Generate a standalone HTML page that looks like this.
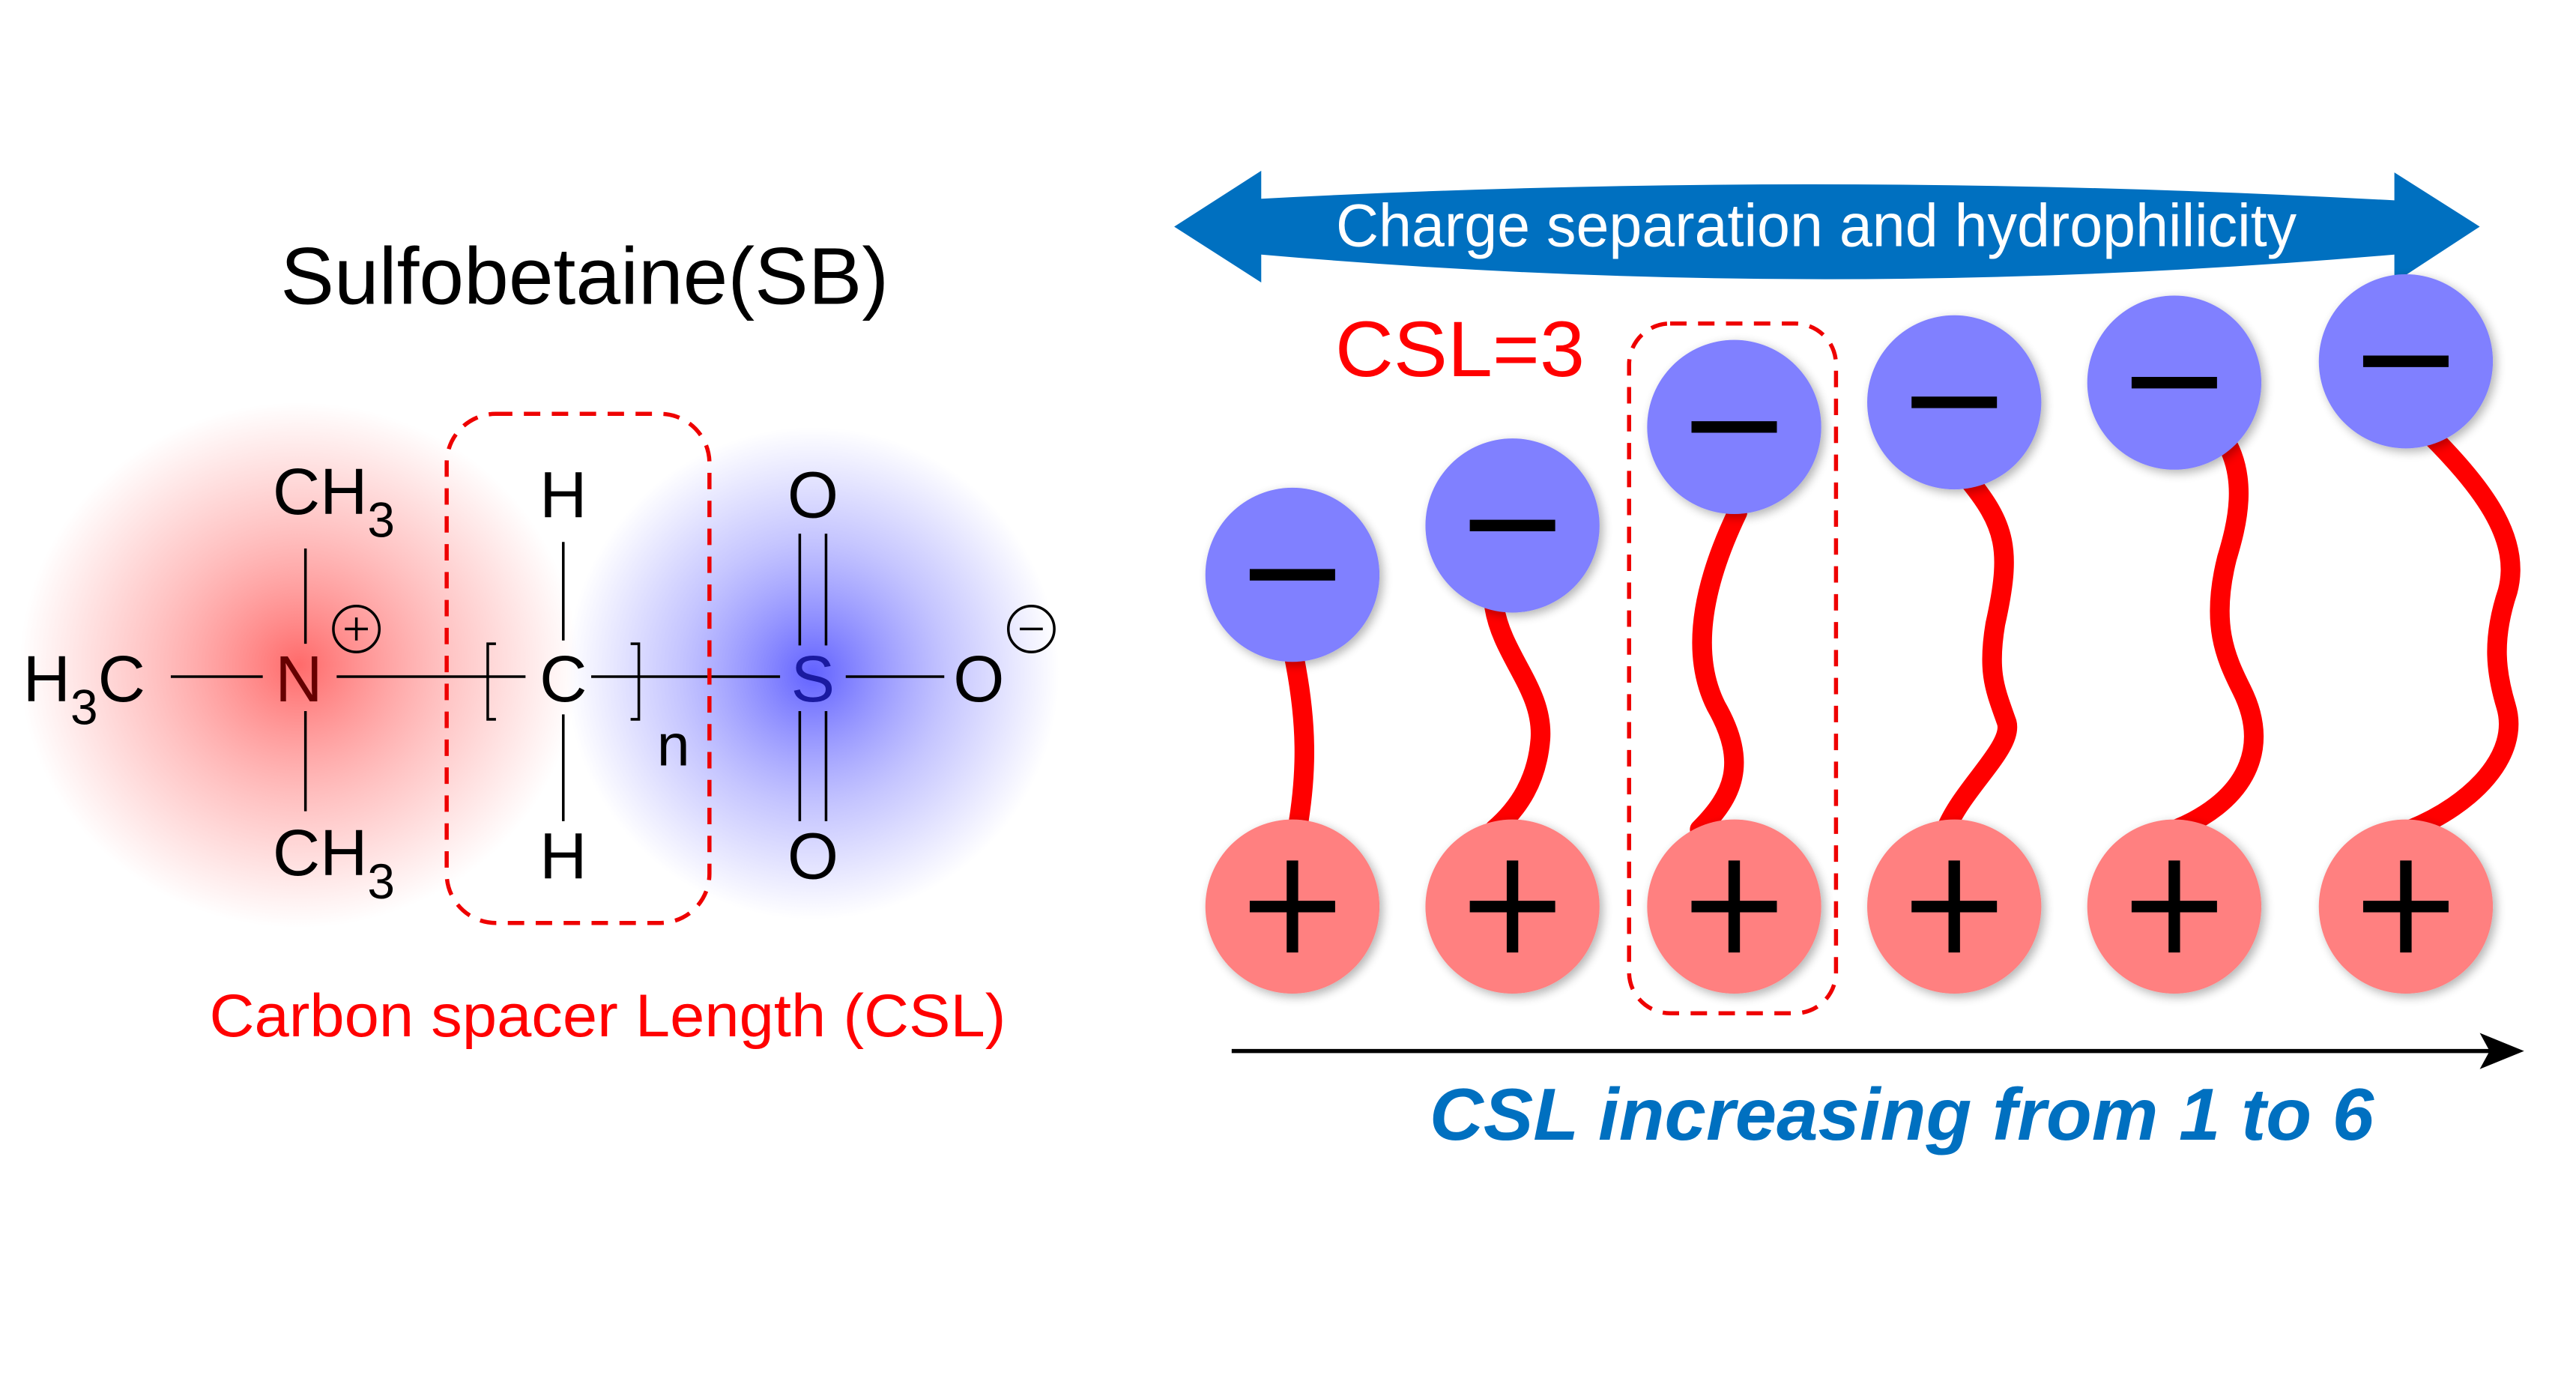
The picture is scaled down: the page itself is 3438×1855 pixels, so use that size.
<!DOCTYPE html>
<html><head><meta charset="utf-8"><style>
html,body{margin:0;padding:0;background:#fff;}
svg{display:block;font-family:"Liberation Sans",sans-serif;}
</style></head><body>
<svg width="3438" height="1855" viewBox="0 0 1568.6 846.4" preserveAspectRatio="none" xmlns="http://www.w3.org/2000/svg">
<defs>
<radialGradient id="rg"><stop offset="0" stop-color="#ff5050" stop-opacity="0.85"/><stop offset="0.55" stop-color="#ff8080" stop-opacity="0.45"/><stop offset="1" stop-color="#ff8080" stop-opacity="0"/></radialGradient>
<radialGradient id="bg"><stop offset="0" stop-color="#5050ff" stop-opacity="0.9"/><stop offset="0.55" stop-color="#8080ff" stop-opacity="0.45"/><stop offset="1" stop-color="#8080ff" stop-opacity="0"/></radialGradient>
<filter id="sh" x="-30%" y="-30%" width="160%" height="160%"><feGaussianBlur in="SourceAlpha" stdDeviation="3"/><feOffset dx="2" dy="2"/><feComponentTransfer><feFuncA type="linear" slope="0.3"/></feComponentTransfer><feMerge><feMergeNode/><feMergeNode in="SourceGraphic"/></feMerge></filter>
</defs>
<rect width="1568.6" height="846.4" fill="#fff"/>
<ellipse cx="182" cy="405" rx="170" ry="160" fill="url(#rg)"/>
<ellipse cx="495" cy="410" rx="150" ry="150" fill="url(#bg)"/>
<text x="356" y="185" font-size="49" text-anchor="middle" fill="#000">Sulfobetaine(SB)</text>
<g font-size="40" fill="#000" stroke-width="1.6">
<text x="14" y="427">H<tspan font-size="30" dy="14">3</tspan><tspan dy="-14">C</tspan></text>
<line x1="104" y1="412" x2="160" y2="412" stroke="#000"/>
<text x="182" y="427" text-anchor="middle" fill="#600">N</text>
<circle cx="217" cy="383" r="14" fill="none" stroke="#000"/>
<line x1="210" y1="383" x2="224" y2="383" stroke="#000"/><line x1="217" y1="376" x2="217" y2="390" stroke="#000"/>
<text x="166" y="313">CH<tspan font-size="30" dy="14">3</tspan></text>
<line x1="186" y1="334" x2="186" y2="392" stroke="#000"/>
<line x1="186" y1="433" x2="186" y2="494" stroke="#000"/>
<text x="166" y="533">CH<tspan font-size="30" dy="14">3</tspan></text>
<line x1="205" y1="412" x2="320" y2="412" stroke="#000"/>
<path d="M302,392 H297 V438 H302" fill="none" stroke="#000"/>
<text x="343" y="427" text-anchor="middle">C</text>
<text x="343" y="315" text-anchor="middle">H</text>
<text x="343" y="535" text-anchor="middle">H</text>
<line x1="343" y1="330" x2="343" y2="390" stroke="#000"/>
<line x1="343" y1="435" x2="343" y2="500" stroke="#000"/>
<line x1="360" y1="412" x2="475" y2="412" stroke="#000"/>
<path d="M384,392 H389 V438 H384" fill="none" stroke="#000"/>
<text x="400" y="466" font-size="36">n</text>
<text x="495" y="427" text-anchor="middle" fill="#1a1aa0">S</text>
<text x="495" y="315" text-anchor="middle">O</text>
<text x="495" y="535" text-anchor="middle">O</text>
<line x1="487" y1="325" x2="487" y2="393" stroke="#000"/><line x1="503" y1="325" x2="503" y2="393" stroke="#000"/>
<line x1="487" y1="433" x2="487" y2="500" stroke="#000"/><line x1="503" y1="433" x2="503" y2="500" stroke="#000"/>
<line x1="515" y1="412" x2="575" y2="412" stroke="#000"/>
<text x="596" y="427" text-anchor="middle">O</text>
<circle cx="628" cy="383" r="14" fill="none" stroke="#000"/>
<line x1="621" y1="383" x2="635" y2="383" stroke="#000"/>
</g>
<rect x="272" y="252" width="160" height="310" rx="30" fill="none" stroke="#e00" stroke-width="2.5" stroke-dasharray="10,7"/>
<text x="370" y="631" font-size="37" text-anchor="middle" fill="#f00" textLength="485" lengthAdjust="spacingAndGlyphs">Carbon spacer Length (CSL)</text>
<path d="M715,138 L768,104 L768,121 Q1110,103 1458,122 L1458,105 L1510,138 L1458,172 L1458,155 Q1110,185 768,155 L768,172 Z" fill="#0070c0"/>
<text x="1106" y="150" font-size="37" text-anchor="middle" fill="#fff" textLength="585" lengthAdjust="spacingAndGlyphs">Charge separation and hydrophilicity</text>
<text x="813" y="229" font-size="48" fill="#f00" textLength="152" lengthAdjust="spacingAndGlyphs">CSL=3</text>
<rect x="992" y="197" width="126" height="420" rx="25" fill="none" stroke="#e00" stroke-width="2.5" stroke-dasharray="10,7"/>
<g fill="none" stroke="#f00" stroke-width="12" stroke-linecap="round">
<path d="M788,400 C796,440 796,470 790,505"/>
<path d="M910,370 C915,400 940,420 938,450 C936,475 925,492 910,505"/>
<path d="M1058,312 C1035,360 1030,400 1045,430 C1065,465 1055,485 1035,505"/>
<path d="M1197,290 C1222,320 1225,335 1215,380 C1210,410 1215,420 1222,440 C1226,455 1195,480 1185,505"/>
<path d="M1353,265 C1370,290 1362,320 1356,340 C1346,380 1355,400 1365,420 C1385,460 1362,490 1325,505"/>
<path d="M1480,265 C1515,300 1535,330 1527,360 C1517,390 1520,410 1526,430 C1535,460 1505,490 1468,505"/>
</g>
<g filter="url(#sh)">
<circle cx="787" cy="552" r="53" fill="#ff8080"/><circle cx="921" cy="552" r="53" fill="#ff8080"/><circle cx="1056" cy="552" r="53" fill="#ff8080"/><circle cx="1190" cy="552" r="53" fill="#ff8080"/><circle cx="1324" cy="552" r="53" fill="#ff8080"/><circle cx="1465" cy="552" r="53" fill="#ff8080"/>
</g>
<g filter="url(#sh)">
<circle cx="787" cy="350" r="53" fill="#8080ff"/><circle cx="921" cy="320" r="53" fill="#8080ff"/><circle cx="1056" cy="260" r="53" fill="#8080ff"/><circle cx="1190" cy="245" r="53" fill="#8080ff"/><circle cx="1324" cy="233" r="53" fill="#8080ff"/><circle cx="1465" cy="220" r="53" fill="#8080ff"/>
</g>
<g stroke="#000" stroke-width="7">
<path d="M761,552 H813 M787,524 V580"/><path d="M895,552 H947 M921,524 V580"/><path d="M1030,552 H1082 M1056,524 V580"/><path d="M1164,552 H1216 M1190,524 V580"/><path d="M1298,552 H1350 M1324,524 V580"/><path d="M1439,552 H1491 M1465,524 V580"/>
</g>
<g stroke="#000" stroke-width="7">
<path d="M761,350 H813"/><path d="M895,320 H947"/><path d="M1030,260 H1082"/><path d="M1164,245 H1216"/><path d="M1298,233 H1350"/><path d="M1439,220 H1491"/>
</g>
<line x1="750" y1="640" x2="1525" y2="640" stroke="#000" stroke-width="2.5"/>
<path d="M1510,629 L1537,640 L1510,651 L1516,640 Z" fill="#000"/>
<text x="1158" y="694" font-size="45" font-weight="bold" font-style="italic" text-anchor="middle" fill="#0070c0" textLength="575" lengthAdjust="spacingAndGlyphs">CSL increasing from 1 to 6</text>
</svg>
</body></html>
